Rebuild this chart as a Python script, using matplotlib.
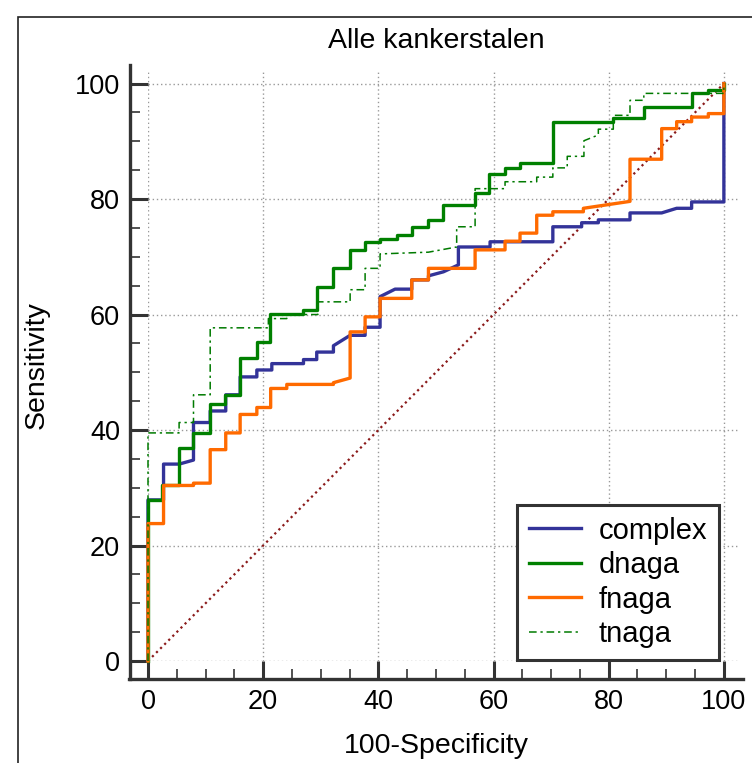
import matplotlib
matplotlib.use('Agg')
import matplotlib.pyplot as plt
from matplotlib.patches import Rectangle

plt.rcParams['font.family'] = ['Liberation Sans', 'DejaVu Sans']

# ROC curves: (100-specificity, sensitivity) vertices
complex_x = [0, 0, 2.7, 2.7, 5.4, 7.9, 7.9, 10.8, 10.8, 13.5, 13.5, 16, 16, 18.9, 18.9, 21.5, 21.5, 27, 27,
             29.3, 29.3, 32.2, 32.2, 35.1, 37.7, 37.7, 40.3, 40.3, 42.9, 45.8, 45.8, 48.7, 48.7, 51.3, 53.9,
             53.9, 59.4, 59.4, 70.3, 70.3, 75.3, 75.3, 78.2, 78.2, 83.7, 83.7, 89.2, 91.8, 94.4, 94.4, 100, 100]
complex_y = [0, 27.9, 27.9, 34.1, 34.1, 34.8, 41.3, 41.3, 43.3, 43.3, 46.1, 46.1, 49.2, 49.2, 50.4, 50.4, 51.5,
             51.5, 52.2, 52.2, 53.5, 53.5, 54.6, 56.4, 56.4, 57.8, 57.8, 63.1, 64.4, 64.4, 66.0, 66.0, 66.7,
             67.4, 68.6, 71.7, 71.7, 72.6, 72.6, 75.2, 75.2, 75.9, 75.9, 76.4, 76.4, 77.6, 77.6, 78.4, 78.4,
             79.5, 79.5, 100]

dnaga_x = [0, 0, 2.4, 2.4, 5.4, 5.4, 7.9, 7.9, 10.8, 10.8, 13.4, 13.4, 16, 16, 18.9, 18.9, 21.2, 21.2, 27, 27,
           29.4, 29.4, 32.2, 32.2, 35.1, 35.1, 37.7, 37.7, 40.3, 40.3, 43.2, 43.2, 45.8, 45.8, 48.7, 48.7,
           51.3, 51.3, 56.8, 56.8, 59.3, 59.3, 62, 62, 64.6, 64.6, 70.3, 70.3, 80.8, 80.8, 86.1, 86.1, 94.4,
           94.4, 97.3, 97.3, 100, 100]
dnaga_y = [0, 27.9, 27.9, 30.4, 30.4, 36.9, 36.9, 39.5, 39.5, 44.5, 44.5, 46.1, 46.1, 52.4, 52.4, 55.3, 55.3,
           60.1, 60.1, 60.8, 60.8, 64.8, 64.8, 68.0, 68.0, 71.2, 71.2, 72.6, 72.6, 73.0, 73.0, 73.8, 73.8,
           75.2, 75.2, 76.4, 76.4, 79.0, 79.0, 81.0, 81.0, 84.3, 84.3, 85.4, 85.4, 86.2, 86.2, 93.4, 93.4,
           94.0, 94.0, 95.9, 95.9, 98.3, 98.3, 98.9, 98.9, 100]

fnaga_x = [0, 0, 2.7, 2.7, 7.9, 7.9, 10.8, 10.8, 13.5, 13.5, 16, 16, 18.9, 18.9, 21.3, 21.3, 24.1, 24.1, 32.2,
           32.2, 35.1, 35.1, 37.7, 37.7, 40.3, 40.3, 45.8, 45.8, 48.7, 48.7, 56.8, 56.8, 62, 62, 64.6, 64.6,
           67.5, 67.5, 70.3, 70.3, 75.6, 75.6, 83.7, 83.7, 89.2, 89.2, 91.8, 91.8, 94.4, 94.4, 97.3, 97.3,
           100, 100]
fnaga_y = [0, 23.8, 23.8, 30.4, 30.4, 30.8, 30.8, 36.6, 36.6, 39.5, 39.5, 42.7, 42.7, 43.9, 43.9, 47.2, 47.2,
           47.9, 47.9, 48.2, 49.0, 57.0, 57.0, 59.6, 59.6, 62.8, 62.8, 66.0, 66.0, 68.0, 68.0, 71.2, 71.2,
           72.7, 72.7, 74.1, 74.1, 77.2, 77.2, 77.8, 77.8, 78.4, 79.6, 86.9, 86.9, 92.2, 92.2, 93.4, 93.4,
           94.2, 94.2, 94.8, 94.8, 100]

tnaga_x = [0, 0, 5.4, 5.4, 7.9, 7.9, 10.8, 10.8, 20.9, 20.9, 24.1, 24.1, 29.5, 29.5, 35.1, 35.1, 37.7, 37.7,
           40.3, 40.3, 48.7, 53.6, 53.6, 56.8, 56.8, 62, 62, 67.5, 67.5, 70.3, 70.3, 72.8, 72.8, 75.7, 75.7,
           78.2, 78.2, 80.8, 80.8, 83.7, 83.7, 86.1, 86.1, 100, 100]
tnaga_y = [0, 39.5, 39.5, 41.3, 41.3, 46.1, 46.1, 57.7, 57.7, 59.3, 59.3, 60.0, 60.0, 62.2, 62.2, 64.3, 64.3,
           68.0, 68.0, 70.5, 70.8, 71.7, 75.2, 75.2, 81.8, 81.8, 83.0, 83.0, 83.8, 83.8, 85.4, 85.4, 87.4,
           87.4, 90.1, 91.1, 92.1, 92.1, 94.5, 94.5, 97.1, 97.1, 98.3, 98.3, 100]

ticks = [0, 20, 40, 60, 80, 100]

W, H = 752, 763
fig = plt.figure(figsize=(W / 100, H / 100), dpi=100)
ax = fig.add_axes([148 / W, 1 - 661 / H, (740 - 148) / W, (661 - 70) / H])
ax.set_xlim(0, 102.8)
ax.set_ylim(0, 102.35)

# outer frame
fig.patches.append(Rectangle((18 / W, -0.1), 2, 1.1 - 17 / H, transform=fig.transFigure,
                             fill=False, lw=1.2, ec='#222222'))

ax.plot([0, 100], [0, 100], color='#8b1a1a', lw=1.6, linestyle=(0, (1, 1.6)), zorder=2)
ax.plot(complex_x, complex_y, color='#333399', lw=2.4, label='complex', clip_on=False, zorder=3)
ax.plot(dnaga_x, dnaga_y, color='#008000', lw=2.4, label='dnaga', clip_on=False, zorder=4)
ax.plot(fnaga_x, fnaga_y, color='#ff6a00', lw=2.4, label='fnaga', clip_on=False, zorder=4.5)
ax.plot(tnaga_x, tnaga_y, color='#007a00', lw=1.1, linestyle=(0, (5, 2.5, 1.5, 2.5)),
        label='tnaga', clip_on=False, zorder=5)

ax.set_xticks(ticks)
ax.set_yticks(ticks)
ax.set_xticks(range(0, 101, 5), minor=True)
ax.set_yticks(range(0, 101, 5), minor=True)
ax.grid(True, which='major', color='#999999', lw=1.0, linestyle=(0, (1, 2)))
ax.set_axisbelow(True)

for s in ['top', 'right']:
    ax.spines[s].set_visible(False)
ax.spines['left'].set_position(('outward', 13))
ax.spines['bottom'].set_position(('outward', 13))
ax.spines['left'].set_bounds(-3.1, 103.2)
ax.spines['bottom'].set_bounds(-3.3, 103.3)
for s in ['left', 'bottom']:
    ax.spines[s].set_linewidth(2.4)
    ax.spines[s].set_color('#333333')

ax.tick_params(which='major', direction='in', length=13, width=2.2, color='#333333',
               labelsize=19.5, pad=7)
ax.tick_params(which='minor', direction='in', length=7, width=1.2, color='#333333')

ax.set_xlabel('100-Specificity', fontsize=20.5)
ax.set_ylabel('Sensitivity', fontsize=20.5)
ax.xaxis.set_label_coords(50 / 102.8, -0.122)
ax.yaxis.set_label_coords(-0.166, 0.5)

fig.text(436 / W, 1 - 41 / H, 'Alle kankerstalen', fontsize=20.5, ha='center', va='center')

leg = ax.legend(loc='upper left', bbox_to_anchor=(517 / W, 1 - 505 / H), bbox_transform=fig.transFigure,
                borderaxespad=0, fontsize=21, handlelength=1.8, handletextpad=0.6,
                labelspacing=0.22, borderpad=0.4, fancybox=False, framealpha=1)
leg.get_frame().set_edgecolor('#333333')
leg.get_frame().set_linewidth(2.2)

fig.savefig('out.png', dpi=100)
